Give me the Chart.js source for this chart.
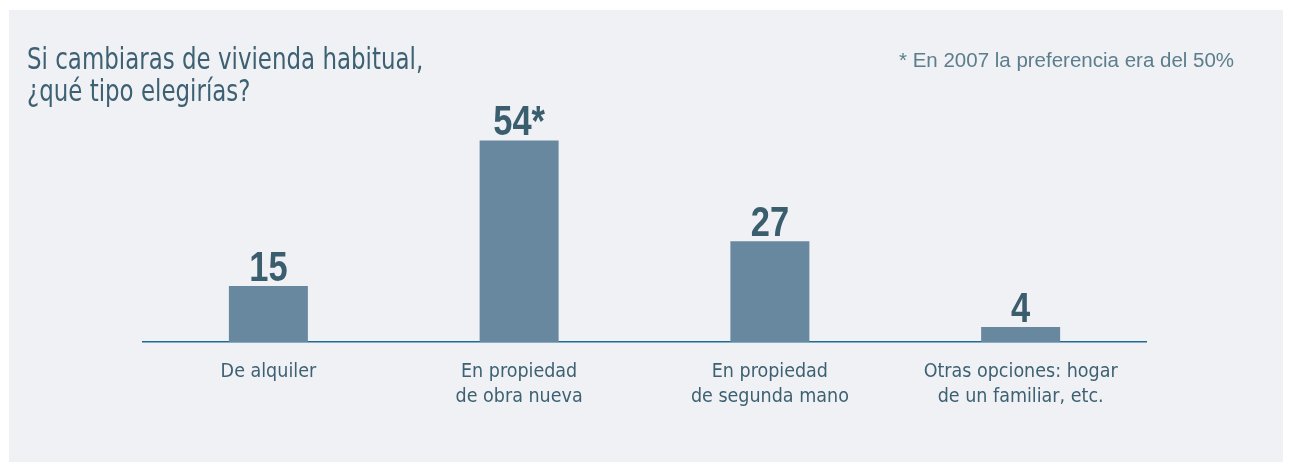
<!DOCTYPE html>
<html>
<head>
<meta charset="utf-8">
<script src="https://cdn.jsdelivr.net/npm/chart.js@4/dist/chart.umd.min.js"></script>
<style>
    body { margin: 0; background: #ffffff; }
    #panel {
        position: absolute; left: 9px; top: 10px; width: 1274px; height: 452px;
        background: #eff1f5;
    }
    #chart { position: absolute; left: 0; top: 0; }
    .title {
        position: absolute; left: 18px; top: 33px;
        font-family: "DejaVu Sans Condensed", sans-serif;
        font-size: 30px; line-height: 32px; color: #3d6172;
        transform: scaleX(0.85); transform-origin: left top; white-space: nowrap;
    }
    .note {
        position: absolute; left: 890px; top: 38px;
        font-family: "Liberation Sans", sans-serif;
        font-size: 20.5px; color: #5c7d8c; white-space: nowrap;
    }
</style>
</head>
<body>
<div id="panel">
    <canvas id="chart" width="1274" height="452"></canvas>
    <div class="title">Si cambiaras de vivienda habitual,<br>¿qué tipo elegirías?</div>
    <div class="note">* En 2007 la preferencia era del 50%</div>
</div>
<script>
// Datos
const categories = [
    ['De alquiler'],
    ['En propiedad', 'de obra nueva'],
    ['En propiedad', 'de segunda mano'],
    ['Otras opciones: hogar', 'de un familiar, etc.']
];
const values = [15, 54, 27, 4];
const valueMarks = ['', '*', '', ''];

const narrow = '"DejaVu Sans Condensed", sans-serif';

// Etiquetas de valor encima de cada barra (comprimidas en horizontal)
const valueLabels = {
    id: 'valueLabels',
    afterDatasetsDraw(chart) {
        const { ctx } = chart;
        const meta = chart.getDatasetMeta(0);
        const sx = 0.82;
        meta.data.forEach((bar, i) => {
            ctx.save();
            ctx.translate(bar.x, bar.y - 5);
            ctx.scale(sx, 1);
            ctx.fillStyle = '#3b5e6e';
            ctx.font = 'bold 42px "Liberation Sans", sans-serif';
            ctx.textAlign = 'center';
            ctx.textBaseline = 'alphabetic';
            ctx.fillText(values[i] + valueMarks[i], 0, 0);
            ctx.restore();
        });
    }
};

new Chart(document.getElementById('chart'), {
    type: 'bar',
    data: {
        labels: categories,
        datasets: [{
            data: values,
            backgroundColor: '#6888a0',
            barPercentage: 0.315,
            categoryPercentage: 1
        }]
    },
    options: {
        responsive: false,
        animation: false,
        layout: { padding: { left: 134, right: 137, top: 108, bottom: 0 } },
        plugins: {
            legend: { display: false },
            tooltip: { enabled: false }
        },
        scales: {
            x: {
                grid: { display: false },
                border: { display: true, color: '#1f6a92', width: 1.5 },
                ticks: {
                    color: '#3d6172',
                    font: { family: narrow, size: 19.5, lineHeight: 1.28 },
                    padding: 9,
                    maxRotation: 0
                },
                afterFit: (scale) => { scale.height = 120; }
            },
            y: {
                display: false,
                min: 0,
                max: 60
            }
        }
    },
    plugins: [valueLabels]
});
</script>
</body>
</html>
